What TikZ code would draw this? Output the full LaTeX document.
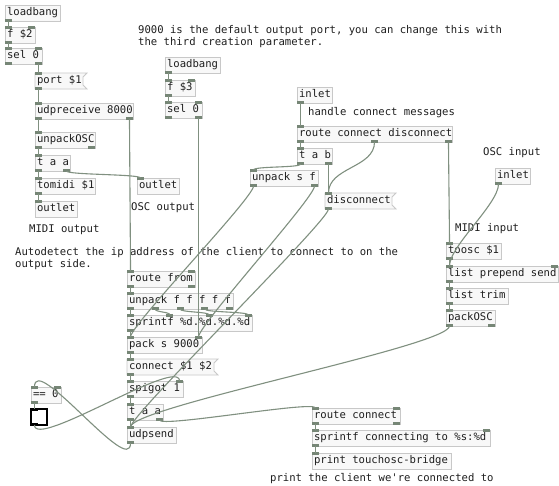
\documentclass[tikz,border=0pt]{standalone}
\usepackage{fontspec}
\setmonofont{DejaVu Sans Mono}
\usetikzlibrary{calc}

\definecolor{boxline}{RGB}{200,200,200}
\definecolor{boxfill}{RGB}{248,248,248}
\definecolor{portcol}{RGB}{118,134,118}
\definecolor{cordcol}{RGB}{128,144,128}
\definecolor{txtcol}{RGB}{30,30,30}

\tikzset{
  pdbox/.style={anchor=north west, draw=boxline, fill=boxfill, line width=0.8pt,
    minimum height=16pt, inner xsep=2pt, inner ysep=0pt, outer sep=0pt,
    text height=8pt, text depth=2.5pt, text=txtcol,
    font=\ttfamily\fontsize{10.6}{12}\selectfont},
  pdport/.style={fill=portcol},
  cordline/.style={draw=cordcol, line width=1.1pt},
  pdnote/.style={anchor=west, inner sep=0pt, align=left, text=txtcol,
    font=\ttfamily\fontsize{10.6}{12}\selectfont},
  tglbox/.style={anchor=north west, draw=black, line width=1.2pt, fill=white,
    minimum size=16pt, inner sep=0pt, outer sep=0pt},
}

% name, width, inlets, outlets
\newcommand{\pdports}[4]{%
  \ifnum#3>0
  \foreach \i in {1,...,#3}{
    \pgfmathsetmacro\px{(#2-7)*(\i-1)/max(#3-1,1)}
    \fill[pdport] ($(#1.north west)+(\px,-1)$) rectangle ++(7,3);
    \coordinate (#1-in\i) at ($(#1.north west)+(\px+3.5,0)$);
  }
  \fi
  \ifnum#4>0
  \foreach \i in {1,...,#4}{
    \pgfmathsetmacro\px{(#2-7)*(\i-1)/max(#4-1,1)}
    \fill[pdport] ($(#1.south west)+(\px,-2)$) rectangle ++(7,3);
    \coordinate (#1-out\i) at ($(#1.south west)+(\px+3.5,0)$);
  }
  \fi}

% name, x, y, width, inlets, outlets, text
\newcommand{\pdobj}[7]{%
  \node[pdbox, minimum width=#4pt] (#1) at (#2,#3)
    {\makebox[\dimexpr#4pt-4pt\relax][l]{#7}};
  \pdports{#1}{#4}{#5}{#6}}

\newcommand{\pdmsg}[7]{%
  \filldraw[draw=boxline, fill=boxfill, line width=0.8pt]
    (#2,#3) -- ++(#4+4,0) -- ++(-4,4) -- ++(0,8) -- ++(4,4) -- ++(-#4-4,0) -- cycle;
  \node[pdbox, draw=none, fill=none, minimum width=#4pt] (#1) at (#2,#3)
    {\makebox[\dimexpr#4pt-4pt\relax][l]{#7}};
  \pdports{#1}{#4}{#5}{#6}}

\newcommand{\cord}[3][12]{%
  \draw[cordline] (#2) .. controls +(0,#1) and +(0,-#1) .. (#3);}

\begin{document}
\begin{tikzpicture}[x=1pt,y=-1pt]
\useasboundingbox[fill=white] (0,0) rectangle (559,485);

% receiving side
\pdobj{lbA}{5}{5}{55}{0}{1}{loadbang}
\pdobj{fA}{5}{27}{30}{2}{1}{f \$2}
\pdobj{selA}{5}{48}{37}{2}{2}{sel 0}
\pdmsg{portmsg}{35}{73}{48}{1}{1}{port \$1}
\pdobj{udprecv}{35}{103}{98}{1}{2}{udpreceive 8000}
\pdobj{unpOSC}{35}{132}{60}{1}{2}{unpackOSC}
\pdobj{trigA}{35}{155}{35}{1}{2}{t a a}
\pdobj{tomidi}{35}{178}{60}{1}{1}{tomidi \$1}
\pdobj{midiout}{35}{201}{42}{1}{0}{outlet}
\pdobj{oscout}{137}{178}{42}{1}{0}{outlet}

% output port
\pdobj{lbB}{165}{57}{55}{0}{1}{loadbang}
\pdobj{fB}{165}{80}{30}{2}{1}{f \$3}
\pdobj{selB}{165}{102}{37}{2}{2}{sel 0}

% connect messages
\pdobj{ctlin}{297}{87}{35}{0}{1}{inlet}
\pdobj{rcd}{297}{126}{155}{1}{3}{route connect disconnect}
\pdobj{trigB}{297}{148}{35}{1}{2}{t a b}
\pdobj{unpsf}{250}{170}{68}{1}{2}{unpack s f}
\pdmsg{discmsg}{325}{193}{67}{1}{1}{disconnect}

% sending side
\pdobj{oscin}{495}{168}{35}{0}{1}{inlet}
\pdobj{toosc}{446}{243}{55}{1}{1}{toosc \$1}
\pdobj{prepend}{446}{266}{112}{2}{1}{list prepend send}
\pdobj{ltrim}{446}{288}{62}{1}{1}{list trim}
\pdobj{packOSC}{446}{310}{49}{1}{2}{packOSC}

% client address
\pdobj{rfrom}{127}{271}{68}{2}{2}{route from}
\pdobj{unpip}{127}{293}{106}{1}{5}{unpack f f f f f}
\pdobj{sprip}{127}{315}{125}{4}{1}{sprintf \%d.\%d.\%d.\%d}
\pdobj{packhost}{127}{337}{75}{2}{1}{pack s 9000}
\pdmsg{connmsg}{127}{359}{87}{1}{1}{connect \$1 \$2}
\pdobj{spig}{127}{381}{56}{2}{1}{spigot 1}
\pdobj{trigC}{127}{404}{36}{1}{2}{t a a}
\pdobj{usend}{127}{427}{49}{1}{1}{udpsend}
\pdobj{eqz}{31}{387}{30}{2}{1}{== 0}
\node[tglbox] (tgl) at (31,409) {};
\fill ($(tgl.north west)+(0,-1)$) rectangle ++(7,3);
\fill ($(tgl.south west)+(0,-2)$) rectangle ++(7,3);
\coordinate (tgl-in1) at ($(tgl.north west)+(3.5,0)$);
\coordinate (tgl-out1) at ($(tgl.south west)+(3.5,0)$);

\pdobj{rconn}{312}{408}{88}{2}{2}{route connect}
\pdobj{sprconn}{312}{430}{178}{2}{1}{sprintf connecting to \%s:\%d}
\pdobj{prnt}{312}{453}{139}{1}{0}{print touchosc-bridge}

% comments
\node[pdnote] (notePort) at (138,36.5) {9000 is the default output port, you can change this with\\the third creation parameter.};
\node[pdnote] (noteConn) at (308,113) {handle connect messages};
\node[pdnote] (noteOscOut) at (131,208) {OSC output};
\node[pdnote] (noteMidiOut) at (29,230) {MIDI output};
\node[pdnote] (noteIp) at (15,258.5) {Autodetect the ip address of the client to connect to on the\\output side.};
\node[pdnote] (noteOscIn) at (483,153) {OSC input};
\node[pdnote] (noteMidiIn) at (455,229) {MIDI input};
\node[pdnote] (notePrint) at (270,478.5) {print the client we're connected to};

% cords
\cord{lbA-out1}{fA-in1}
\cord{fA-out1}{selA-in1}
\cord{selA-out2}{portmsg-in1}
\cord{portmsg-out1}{udprecv-in1}
\cord{udprecv-out1}{unpOSC-in1}
\cord{udprecv-out2}{rfrom-in1}
\cord{unpOSC-out1}{trigA-in1}
\cord{trigA-out1}{tomidi-in1}
\cord[4]{trigA-out2}{oscout-in1}
\cord{tomidi-out1}{midiout-in1}
\cord{lbB-out1}{fB-in1}
\cord{fB-out1}{selB-in1}
\cord{selB-out2}{packhost-in2}
\cord{ctlin-out1}{rcd-in1}
\cord{rcd-out1}{trigB-in1}
\cord[26]{rcd-out2}{discmsg-in1}
\cord{rcd-out3}{toosc-in1}
\cord[4]{trigB-out1}{unpsf-in1}
\cord{trigB-out2}{discmsg-in1}
\cord{unpsf-out1}{packhost-in1}
\cord{unpsf-out2}{packhost-in2}
\cord{discmsg-out1}{usend-in1}
\cord[20]{oscin-out1}{prepend-in1}
\cord{toosc-out1}{prepend-in1}
\cord{prepend-out1}{ltrim-in1}
\cord{ltrim-out1}{packOSC-in1}
\cord[20]{packOSC-out1}{usend-in1}
\cord{rfrom-out1}{unpip-in1}
\foreach \k in {1,...,4}{\cord[3.5]{unpip-out\k}{sprip-in\k}}
\cord{sprip-out1}{packhost-in1}
\cord{packhost-out1}{connmsg-in1}
\cord{connmsg-out1}{spig-in1}
\cord{spig-out1}{trigC-in1}
\cord{trigC-out1}{usend-in1}
\cord[8]{trigC-out2}{rconn-in1}
\cord[35]{usend-out1}{eqz-in1}
\cord{eqz-out1}{tgl-in1}
\cord[25]{tgl-out1}{spig-in2}
\cord{rconn-out1}{sprconn-in1}
\cord{sprconn-out1}{prnt-in1}
\end{tikzpicture}
\end{document}
